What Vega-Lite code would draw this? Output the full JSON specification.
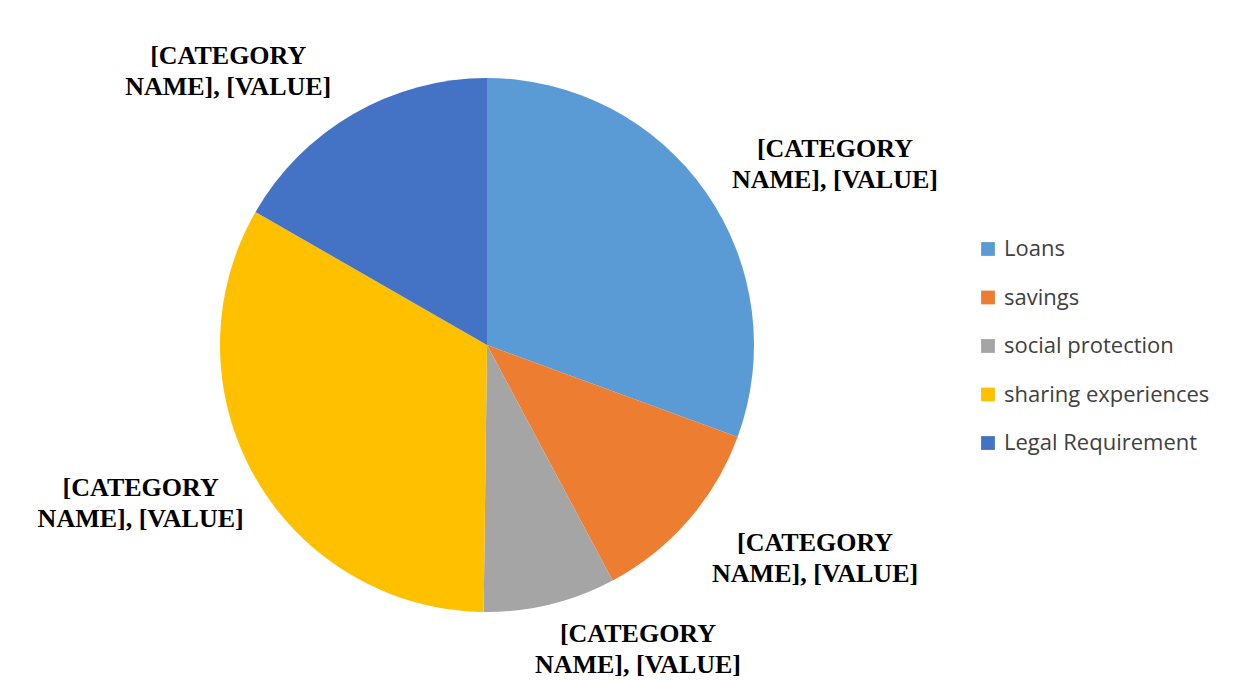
{
  "$schema": "https://vega.github.io/schema/vega-lite/v6.json",
  "width": 958,
  "height": 680,
  "padding": {"left": 8, "top": 5, "right": 0, "bottom": 0},
  "background": "white",
  "config": {
    "view": {"stroke": null},
    "text": {"font": "Liberation Serif", "fontWeight": "bold", "fontSize": 26, "lineHeight": 31, "lineBreak": "\n", "align": "center", "baseline": "middle", "radius": 317}
  },
  "data": {
    "values": [
      {"category": "Loans", "value": 30.6},
      {"category": "savings", "value": 11.6},
      {"category": "social protection", "value": 8.0},
      {"category": "sharing experiences", "value": 33.1},
      {"category": "Legal Requirement", "value": 16.7}
    ]
  },
  "transform": [{"window": [{"op": "row_number", "as": "idx"}]}],
  "encoding": {
    "theta": {"field": "value", "type": "quantitative", "stack": true},
    "order": {"field": "idx", "type": "quantitative"},
    "color": {
      "field": "category",
      "type": "nominal",
      "sort": ["Loans", "savings", "social protection", "sharing experiences", "Legal Requirement"],
      "scale": {
        "domain": ["Loans", "savings", "social protection", "sharing experiences", "Legal Requirement"],
        "range": ["#5B9BD5", "#ED7D31", "#A5A5A5", "#FFC000", "#4472C4"]
      },
      "legend": {
        "title": null,
        "orient": "none",
        "legendX": 969,
        "legendY": 233,
        "symbolType": "square",
        "symbolSize": 190,
        "symbolStrokeWidth": 0,
        "labelFont": "Open Sans",
        "labelFontSize": 22,
        "labelColor": "#404040",
        "labelOffset": 5,
        "rowPadding": 26.5,
        "labelLimit": 400
      }
    }
  },
  "layer": [
    {"mark": {"type": "arc", "outerRadius": 267}},
    {
      "mark": {"type": "text", "dx": 88, "dy": -15},
      "encoding": {
        "text": {"condition": {"test": "datum.category == 'Loans'", "value": "[CATEGORY\nNAME], [VALUE]"}, "value": ""},
        "color": {"value": "#000000"}
      }
    },
    {
      "mark": {"type": "text", "dx": 89, "dy": -10},
      "encoding": {
        "text": {"condition": {"test": "datum.category == 'savings'", "value": "[CATEGORY\nNAME], [VALUE]"}, "value": ""},
        "color": {"value": "#000000"}
      }
    },
    {
      "mark": {"type": "text", "dx": 76, "dy": -19},
      "encoding": {
        "text": {"condition": {"test": "datum.category == 'social protection'", "value": "[CATEGORY\nNAME], [VALUE]"}, "value": ""},
        "color": {"value": "#000000"}
      }
    },
    {
      "mark": {"type": "text", "dx": -71, "dy": -14},
      "encoding": {
        "text": {"condition": {"test": "datum.category == 'sharing experiences'", "value": "[CATEGORY\nNAME], [VALUE]"}, "value": ""},
        "color": {"value": "#000000"}
      }
    },
    {
      "mark": {"type": "text", "dx": -100, "dy": -15},
      "encoding": {
        "text": {"condition": {"test": "datum.category == 'Legal Requirement'", "value": "[CATEGORY\nNAME], [VALUE]"}, "value": ""},
        "color": {"value": "#000000"}
      }
    }
  ]
}
